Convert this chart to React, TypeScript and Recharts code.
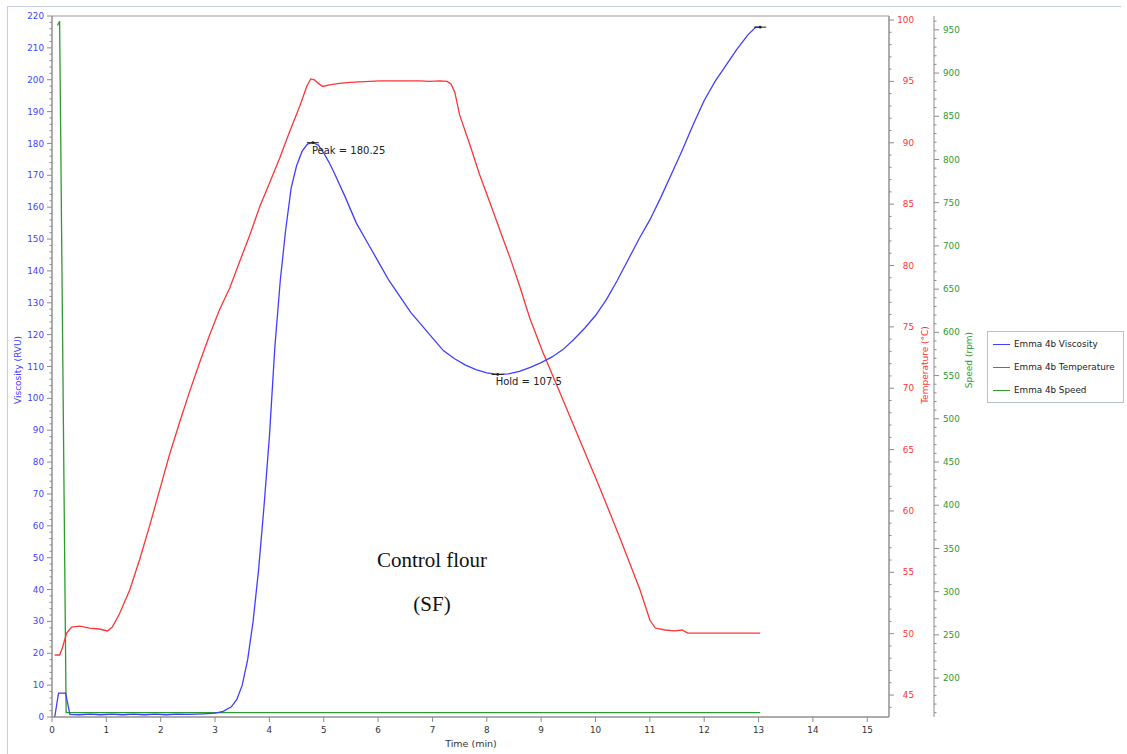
import React from 'react';
import { LineChart, Line, XAxis, YAxis, ReferenceArea, ReferenceDot, Legend } from 'recharts';

// ---- Data ----
const viscTime = [0.05, 0.12, 0.25, 0.33, 0.5, 0.7, 0.9, 1.1, 1.3, 1.5, 1.7, 1.9, 2.1, 2.3, 2.5, 2.8, 3.0, 3.15, 3.3, 3.4, 3.5, 3.6, 3.7, 3.8, 3.9, 4.0, 4.1, 4.2, 4.3, 4.4, 4.5, 4.6, 4.7, 4.8, 4.9, 5.0, 5.1, 5.2, 5.4, 5.6, 5.8, 6.0, 6.2, 6.4, 6.6, 6.8, 7.0, 7.2, 7.4, 7.6, 7.8, 8.0, 8.2, 8.4, 8.6, 8.8, 9.0, 9.2, 9.4, 9.6, 9.8, 10.0, 10.2, 10.4, 10.6, 10.8, 11.0, 11.2, 11.4, 11.6, 11.8, 12.0, 12.2, 12.4, 12.6, 12.8, 12.95, 13.03];
const viscValues = [0, 7.5, 7.5, 0.8, 0.7, 0.9, 0.7, 0.9, 0.7, 0.9, 0.7, 0.9, 0.7, 0.9, 0.8, 1.0, 1.2, 1.8, 3.2, 5.5, 10, 18, 30, 46, 66, 88, 116, 137, 153, 166, 173, 177.5, 179.8, 180.25, 179.5, 177, 174, 170.5, 163, 155, 149, 143, 137, 132, 127, 123, 119, 115, 112.5, 110.5, 109, 108, 107.5, 107.7, 108.5, 109.7, 111.2, 113, 115.3, 118.5, 122, 126, 131, 137, 143.5, 150, 156, 163, 170.5, 178, 186, 193.5, 199.5, 204.5, 209.5, 214, 216.5, 216.5];

const tempTime = [0.05, 0.14, 0.19, 0.27, 0.36, 0.51, 0.69, 0.87, 1.02, 1.11, 1.24, 1.43, 1.61, 1.8, 1.98, 2.16, 2.35, 2.53, 2.72, 2.9, 3.08, 3.27, 3.45, 3.64, 3.82, 4.01, 4.19, 4.37, 4.56, 4.69, 4.76, 4.83, 4.89, 4.98, 5.11, 5.29, 5.48, 5.66, 6.03, 6.4, 6.77, 6.95, 7.14, 7.27, 7.34, 7.41, 7.5, 7.69, 7.87, 8.06, 8.24, 8.43, 8.61, 8.79, 9.03, 9.35, 9.71, 10.08, 10.45, 10.82, 11.0, 11.1, 11.28, 11.46, 11.59, 11.7, 11.92, 13.03];
const tempValues = [48.26, 48.26, 48.83, 50.05, 50.54, 50.62, 50.46, 50.38, 50.22, 50.54, 51.6, 53.56, 56.0, 58.85, 61.7, 64.56, 67.25, 69.7, 72.14, 74.34, 76.38, 78.17, 80.29, 82.49, 84.77, 86.81, 88.76, 90.88, 93.0, 94.63, 95.2, 95.12, 94.88, 94.59, 94.71, 94.84, 94.92, 94.96, 95.04, 95.04, 95.04, 95.0, 95.04, 95.0, 94.8, 94.14, 92.27, 89.82, 87.38, 85.1, 82.9, 80.6, 78.25, 75.72, 72.95, 69.6, 65.78, 61.87, 57.8, 53.56, 51.11, 50.46, 50.3, 50.22, 50.3, 50.05, 50.05, 50.05];

const speedTime = [0.1, 0.14, 0.26, 13.03];
const speedValues = [955, 960, 160, 160];

const timeTicks = [0, 1, 2, 3, 4, 5, 6, 7, 8, 9, 10, 11, 12, 13, 14, 15];
const viscTicks = Array.from({ length: 111 }, (_, i) => i * 2);
const tempTicks = Array.from({ length: 57 }, (_, i) => 44 + i);
const speedTicks = Array.from({ length: 81 }, (_, i) => 160 + i * 10);

const peak = { t: 4.8, v: 180.25 };
const hold = { t: 8.2, v: 107.5 };
const finalPt = { t: 13.03, v: 216.5 };

const seriesNames = ['Emma 4b Viscosity', 'Emma 4b Temperature', 'Emma 4b Speed'];

const viscData = viscTime.map((t, i) => ({ t, v: viscValues[i] }));
const tempData = tempTime.map((t, i) => ({ t, T: tempValues[i] }));
const speedData = speedTime.map((t, i) => ({ t, s: speedValues[i] }));

// ---- Styles ----
const BLUE = '#3f3fff';
const RED = '#ff3434';
const GREEN = '#2f9a2f';
const AXIS = '#8c8c8c';
const FONT = 'DejaVu Sans, Verdana, sans-serif';
const TICK_FS = 8.8;

const VTick = (props: any) => {
  const { x, y, payload } = props;
  const val = payload.value;
  const major = val % 10 === 0;
  return (
    <g>
      <line x1={x - (major ? 5 : 2.5)} x2={x} y1={y} y2={y} stroke={AXIS} />
      {major && (
        <text x={x - 8} y={y} dy="0.35em" textAnchor="end" fill={BLUE} fontSize={TICK_FS} fontFamily={FONT}>
          {val}
        </text>
      )}
    </g>
  );
};

const TTick = (props: any) => {
  const { x, y, payload } = props;
  const val = payload.value;
  const major = val % 5 === 0;
  return (
    <g>
      <line x1={x} x2={x + (major ? 5 : 2.5)} y1={y} y2={y} stroke={AXIS} />
      {major && (
        <text x={x + 25} y={y} dy="0.35em" textAnchor="end" fill={RED} fontSize={TICK_FS} fontFamily={FONT}>
          {val}
        </text>
      )}
    </g>
  );
};

const STick = (props: any) => {
  const { x, y, payload } = props;
  const val = payload.value;
  const major = val % 50 === 0;
  return (
    <g>
      <line x1={x} x2={x + (major ? 5 : 2.5)} y1={y} y2={y} stroke={AXIS} />
      {major && (
        <text x={x + 9} y={y} dy="0.35em" textAnchor="start" fill={GREEN} fontSize={TICK_FS} fontFamily={FONT}>
          {val}
        </text>
      )}
    </g>
  );
};

const marker = (label: string | null, dx: number, dy: number) => (p: any) => {
  const { cx, cy } = p;
  return (
    <g>
      <line x1={cx - 6} x2={cx + 6} y1={cy} y2={cy} stroke="#222" strokeWidth={1} />
      <circle cx={cx} cy={cy} r={1.4} fill="#222" />
      {label && (
        <text x={cx + dx} y={cy + dy} fill="#222" fontSize={10} fontFamily={FONT}>
          {label}
        </text>
      )}
    </g>
  );
};

const LegendBox = () => {
  const colors = [BLUE, RED, GREEN];
  return (
    <div
      style={{
        width: 137,
        height: 72,
        boxSizing: 'border-box',
        border: '1px solid #b8c1d1',
        background: '#fff',
        position: 'relative',
      }}
    >
      {seriesNames.map((n, i) => (
        <div key={n} style={{ position: 'absolute', left: 5, top: 5 + i * 23, height: 14, display: 'flex', alignItems: 'center' }}>
          <div style={{ width: 17, height: 1, background: colors[i] }} />
          <span style={{ marginLeft: 4, fontSize: 8.8, fontFamily: FONT, color: '#222', whiteSpace: 'nowrap' }}>{n}</span>
        </div>
      ))}
    </div>
  );
};

export default function App() {
  return (
    <div style={{ position: 'absolute', left: 0, top: 0, width: 1127, height: 754, background: '#fff', overflow: 'hidden' }}>
      <div style={{ position: 'absolute', left: 7, top: 6, width: 1113, height: 760, borderLeft: '1px solid #c6cfdf', borderTop: '1px solid #c6cfdf' }} />
      <LineChart width={1127} height={754} margin={{ top: 16, right: 133, bottom: 7, left: 0 }}>
        <XAxis
          type="number"
          dataKey="t"
          domain={[0, 15.4]}
          ticks={timeTicks}
          interval={0}
          height={30}
          tickSize={5}
          tickMargin={5}
          stroke={AXIS}
          tick={{ fontSize: TICK_FS, fontFamily: FONT, fill: '#333' }}
          allowDuplicatedCategory={false}
        />
        <YAxis
          yAxisId="v"
          orientation="left"
          width={52}
          domain={[0, 220]}
          ticks={viscTicks}
          interval={0}
          tickSize={0}
          tickMargin={0}
          tickLine={false}
          stroke={AXIS}
          tick={VTick}
          allowDataOverflow
        />
        <YAxis
          yAxisId="T"
          orientation="right"
          width={45}
          domain={[43.21, 100.33]}
          ticks={tempTicks}
          interval={0}
          tickSize={0}
          tickMargin={0}
          tickLine={false}
          stroke={AXIS}
          tick={TTick}
          allowDataOverflow
        />
        <YAxis
          yAxisId="s"
          orientation="right"
          width={60}
          domain={[155, 966]}
          ticks={speedTicks}
          interval={0}
          tickSize={0}
          tickMargin={0}
          tickLine={false}
          stroke={AXIS}
          tick={STick}
          allowDataOverflow
        />
        <ReferenceArea yAxisId="v" x1={0} x2={15.4} y1={0} y2={220} fill="none" stroke="#9a9a9a" strokeOpacity={1} fillOpacity={0} />
        <Line yAxisId="s" data={speedData} dataKey="s" type="linear" stroke={GREEN} strokeWidth={1.3} dot={false} isAnimationActive={false} name={seriesNames[2]} />
        <Line yAxisId="T" data={tempData} dataKey="T" type="linear" stroke={RED} strokeWidth={1.3} dot={false} isAnimationActive={false} name={seriesNames[1]} />
        <Line yAxisId="v" data={viscData} dataKey="v" type="linear" stroke={BLUE} strokeWidth={1.3} dot={false} isAnimationActive={false} name={seriesNames[0]} />
        <ReferenceDot yAxisId="v" x={peak.t} y={peak.v} shape={marker(`Peak = ${peak.v}`, -1, 11)} />
        <ReferenceDot yAxisId="v" x={hold.t} y={hold.v} shape={marker(`Hold = ${hold.v}`, -2, 11)} />
        <ReferenceDot yAxisId="v" x={finalPt.t} y={finalPt.v} shape={marker(null, 0, 0)} />
        <Legend layout="horizontal" align="center" verticalAlign="middle" wrapperStyle={{ left: 987, top: 331, width: 137, height: 72 }} content={() => <LegendBox />} />
      </LineChart>
      <svg width={1127} height={754} style={{ position: 'absolute', left: 0, top: 0, pointerEvents: 'none' }}>
        <text x={18} y={370} transform="rotate(-90 18 370)" textAnchor="middle" dominantBaseline="central" fill={BLUE} fontSize={9} fontFamily={FONT}>Viscosity (RVU)</text>
        <text x={925} y={365} transform="rotate(-90 925 365)" textAnchor="middle" dominantBaseline="central" fill={RED} fontSize={9} fontFamily={FONT}>Temperature (°C)</text>
        <text x={969} y={360} transform="rotate(-90 969 360)" textAnchor="middle" dominantBaseline="central" fill={GREEN} fontSize={9} fontFamily={FONT}>Speed (rpm)</text>
        <text x={471} y={747} textAnchor="middle" fill="#333" fontSize={9.5} fontFamily={FONT}>Time (min)</text>
        <text x={432} y={567} textAnchor="middle" fill="#111" fontSize={21} fontFamily="Liberation Serif, Times New Roman, serif">Control flour</text>
        <text x={432} y={611} textAnchor="middle" fill="#111" fontSize={21} fontFamily="Liberation Serif, Times New Roman, serif">(SF)</text>
      </svg>
    </div>
  );
}
